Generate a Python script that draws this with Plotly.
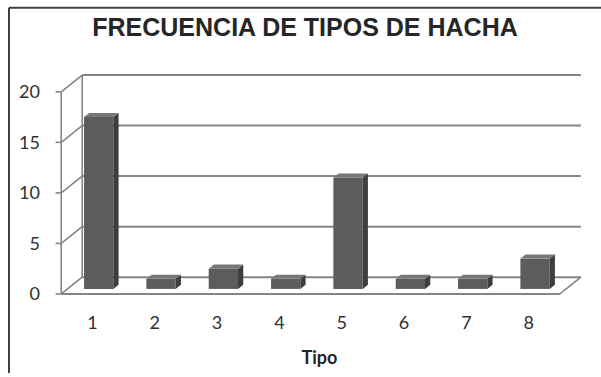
import plotly.graph_objects as go

# ---- data ----
tipos = [1, 2, 3, 4, 5, 6, 7, 8]
tipo_labels = ["1", "2", "3", "4", "5", "6", "7", "8"]
frecuencia = [17, 1, 2, 1, 11, 1, 1, 3]
y_ticks = [0, 5, 10, 15, 20]

# ---- pseudo-3D geometry (in data units) ----
DX = 0.3365   # depth offset along x (categories)
DY = 1.66     # depth offset along y (values)
D0 = 0.30     # depth fraction of bar front face
DB = 0.25     # depth fraction of bar thickness
BW = 0.47     # bar width (categories)
YMAX = 20

GRID = "#858585"
FRONT = "#5c5c5c"
SIDE = "#3e3e3e"
TOP = "#777777"

fig = go.Figure()

shapes = []
def line(x0, y0, x1, y1, w=1.6, c=GRID):
    shapes.append(dict(type="line", xref="x", yref="y", x0=x0, y0=y0, x1=x1, y1=y1,
                       line=dict(color=c, width=w), layer="below"))

xl, xr = 0.5, len(tipos) + 0.5
# back wall gridlines + left wall diagonals + front tick marks
for v in y_ticks:
    line(xl + DX, v + DY, xr + DX, v + DY, w=2)
    line(xl, v, xl + DX, v + DY)
    line(xl - 0.09, v, xl, v)
# left back edge
line(xl + DX, DY, xl + DX, YMAX + DY)
# front vertical axis
line(xl, 0, xl, YMAX)
# floor
line(xl, 0, xr, 0, w=2)
line(xr, 0, xr + DX, DY)

# bars: front faces
fig.add_trace(go.Bar(
    x=[t + D0 * DX for t in tipos], y=frecuencia, base=D0 * DY, width=BW,
    marker=dict(color=FRONT, line=dict(width=0)), showlegend=False, hoverinfo="skip"))

# bars: side and top faces
for t, v in zip(tipos, frecuencia):
    x0 = t + D0 * DX - BW / 2
    x1 = t + D0 * DX + BW / 2
    yb = D0 * DY
    yt = yb + v
    ddx, ddy = DB * DX, DB * DY
    fig.add_trace(go.Scatter(
        x=[x1, x1 + ddx, x1 + ddx, x1, x1], y=[yb, yb + ddy, yt + ddy, yt, yb],
        fill="toself", fillcolor=SIDE, line=dict(width=0), mode="lines",
        showlegend=False, hoverinfo="skip"))
    fig.add_trace(go.Scatter(
        x=[x0, x1, x1 + ddx, x0 + ddx, x0], y=[yt, yt, yt + ddy, yt + ddy, yt],
        fill="toself", fillcolor=TOP, line=dict(width=0), mode="lines",
        showlegend=False, hoverinfo="skip"))

W, H = 601, 377
L, R, T, B = 55, 17, 73, 77

# outer frame (top and left edges)
shapes.append(dict(type="line", xref="paper", yref="paper",
                   x0=-(L - 9) / (W - L - R), x1=(W - L) / (W - L - R),
                   y0=1 + (T - 7) / (H - T - B), y1=1 + (T - 7) / (H - T - B),
                   line=dict(color="#404040", width=2)))
shapes.append(dict(type="line", xref="paper", yref="paper",
                   x0=-(L - 9) / (W - L - R), x1=-(L - 9) / (W - L - R),
                   y0=1 + (T - 7) / (H - T - B), y1=-B / (H - T - B),
                   line=dict(color="#404040", width=2)))

fig.update_layout(
    width=W, height=H,
    margin=dict(l=L, r=R, t=T, b=B, pad=0),
    paper_bgcolor="white", plot_bgcolor="white",
    shapes=shapes,
    barmode="overlay",
    title=dict(text="<b>FRECUENCIA DE TIPOS DE HACHA</b>", xref="container", x=305 / W,
               xanchor="center", yref="container", y=1 - 27 / H, yanchor="middle",
               font=dict(family="Liberation Sans, Arial", size=25, color="#262626")),
    xaxis=dict(range=[0.4, xr + DX + 0.05], tickvals=tipos, ticktext=tipo_labels,
               showgrid=False, zeroline=False, showline=False, ticks="",
               ticklabelstandoff=13,
               tickfont=dict(family="Lato, Open Sans", size=18, color="#303030"),
               title=dict(text="<b>Tipo</b>", standoff=19,
                          font=dict(family="Lato, Open Sans", size=18, color="#262626"))),
    yaxis=dict(range=[-0.3, YMAX + DY + 0.2], tickvals=y_ticks,
               showgrid=False, zeroline=False, showline=False, ticks="",
               ticklabelstandoff=14,
               tickfont=dict(family="Lato, Open Sans", size=18, color="#303030")),
)

fig.write_html("out.html")
